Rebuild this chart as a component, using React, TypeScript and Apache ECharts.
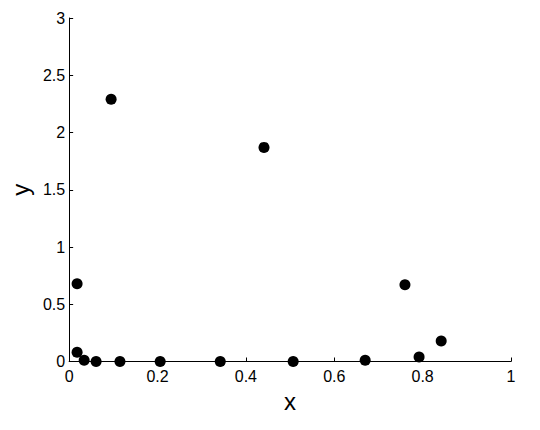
import React, { useEffect, useRef } from "react";
import * as echarts from "echarts";

const xValues = [0.018, 0.018, 0.034, 0.061, 0.115, 0.206, 0.095, 0.342, 0.441, 0.507, 0.67, 0.76, 0.792, 0.842];
const yValues = [0.68, 0.08, 0.01, 0.0, 0.0, 0.0, 2.29, 0.0, 1.87, 0.0, 0.01, 0.67, 0.04, 0.18];
const xTicks = [0, 0.2, 0.4, 0.6, 0.8, 1];
const yTicks = [0, 0.5, 1, 1.5, 2, 2.5, 3];

const font = "'Liberation Sans', Arial, Helvetica, sans-serif";

export default function App() {
  const ref = useRef<HTMLDivElement>(null);
  useEffect(() => {
    if (!ref.current) return;
    const chart = echarts.init(ref.current, undefined, { renderer: "svg" });
    const data = xValues.map((x, i) => [x, yValues[i]]);
    chart.setOption({
      animation: false,
      backgroundColor: "#ffffff",
      grid: { left: 69, right: 29, top: 18, bottom: 68.5, containLabel: false },
      xAxis: {
        type: "value",
        min: xTicks[0],
        max: xTicks[xTicks.length - 1],
        interval: 0.2,
        name: "x",
        nameLocation: "middle",
        nameGap: 18,
        nameTextStyle: { fontFamily: font, fontSize: 24, color: "#000" },
        axisLine: { show: true, lineStyle: { color: "#000", width: 1 } },
        axisTick: { show: true, inside: true, length: 4, lineStyle: { color: "#000" } },
        axisLabel: {
          fontFamily: font,
          fontSize: 16,
          color: "#000",
          margin: 7,
          formatter: (v: number) => String(Number(v.toFixed(2))),
        },
        splitLine: { show: false },
      },
      yAxis: {
        type: "value",
        min: yTicks[0],
        max: yTicks[yTicks.length - 1],
        interval: 0.5,
        name: "y",
        nameLocation: "middle",
        nameGap: 36,
        nameTextStyle: { fontFamily: font, fontSize: 24, color: "#000" },
        axisLine: { show: true, lineStyle: { color: "#000", width: 1 } },
        axisTick: { show: true, inside: true, length: 4, lineStyle: { color: "#000" } },
        axisLabel: {
          fontFamily: font,
          fontSize: 16,
          color: "#000",
          margin: 4,
          formatter: (v: number) => String(Number(v.toFixed(2))),
        },
        splitLine: { show: false },
      },
      series: [
        {
          type: "scatter",
          data,
          symbol: "circle",
          symbolSize: 11,
          itemStyle: { color: "#000", opacity: 1 },
          clip: false,
        },
      ],
    });
    return () => chart.dispose();
  }, []);
  return (
    <div
      ref={ref}
      style={{ position: "fixed", left: 0, top: 0, width: 540, height: 430, background: "#fff" }}
    />
  );
}
